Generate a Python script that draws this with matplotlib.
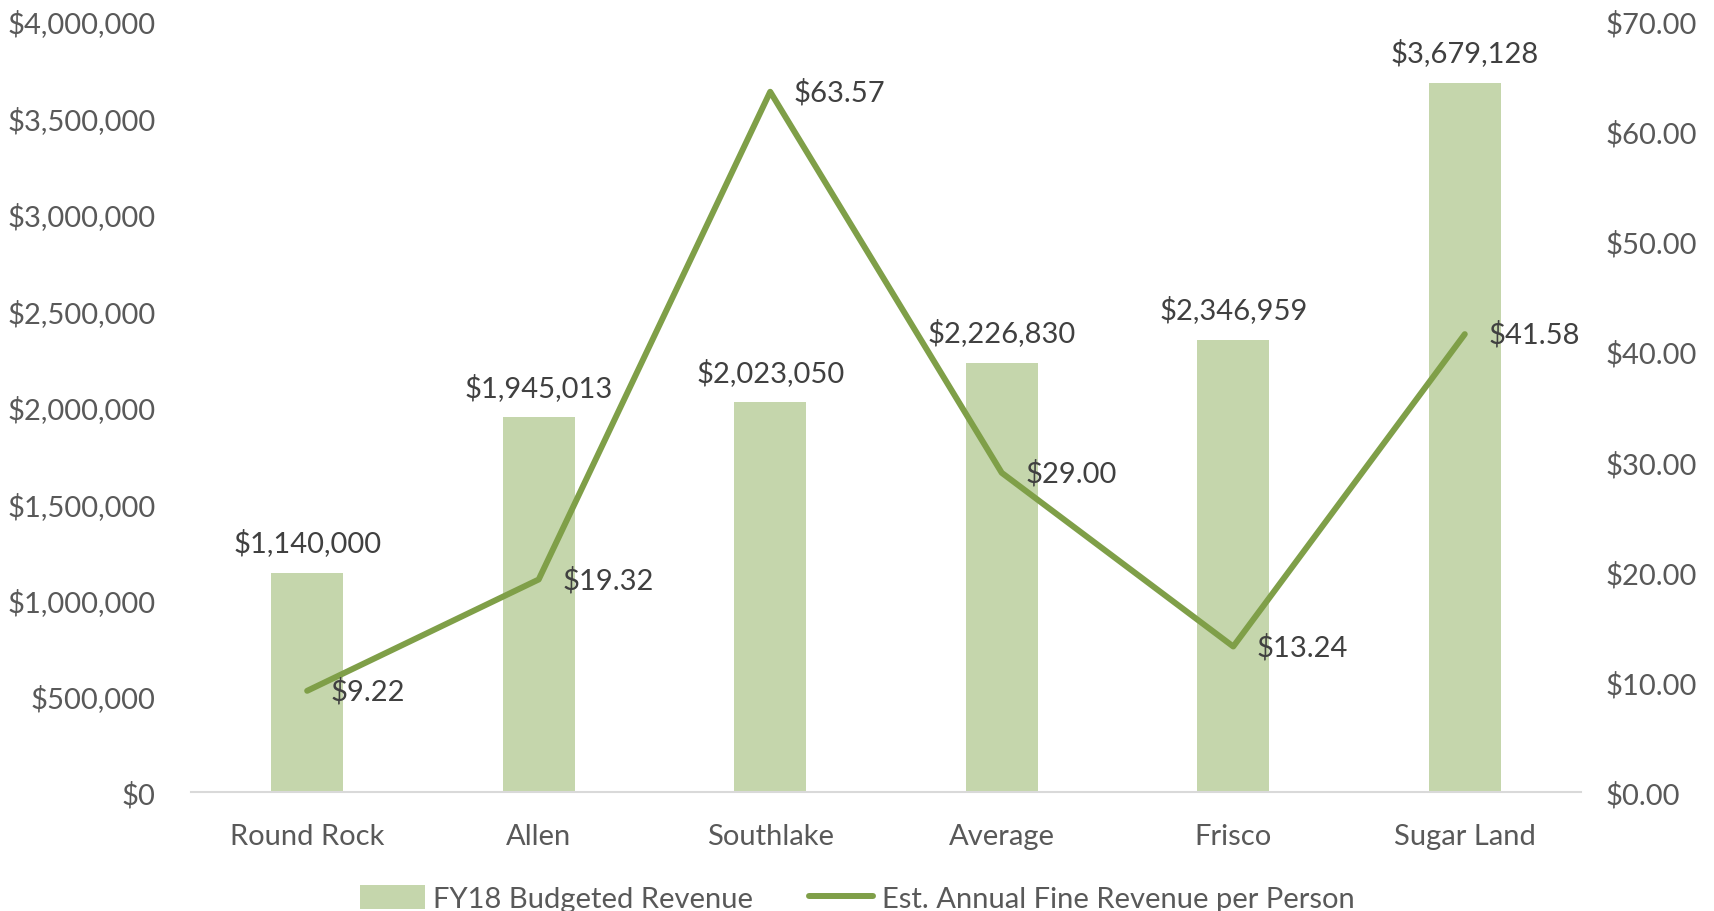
import matplotlib.pyplot as plt
from matplotlib.ticker import FuncFormatter

# Data
cities = ["Round Rock", "Allen", "Southlake", "Average", "Frisco", "Sugar Land"]
budgeted_revenue = [1140000, 1945013, 2023050, 2226830, 2346959, 3679128]
fine_per_person = [9.22, 19.32, 63.57, 29.00, 13.24, 41.58]

bar_color = "#C5D6AC"
line_color = "#7F9F48"
tick_color = "#595959"
label_color = "#404040"
fs = 21

plt.rcParams['font.family'] = ['Lato', 'DejaVu Sans']

fig, ax = plt.subplots(figsize=(17.15, 9.12), dpi=100)
fig.subplots_adjust(left=0.1116, right=0.9216, top=0.976, bottom=0.13)

x = list(range(len(cities)))
bars = ax.bar(x, budgeted_revenue, width=0.31, color=bar_color,
              label="FY18 Budgeted Revenue", zorder=2)
ax.set_ylim(0, 4000000)
ax.set_xlim(-0.5, len(cities) - 0.5)
ax.set_yticks(range(0, 4000001, 500000))
ax.yaxis.set_major_formatter(FuncFormatter(lambda v, p: f"${v:,.0f}"))

ax2 = ax.twinx()
line, = ax2.plot(x, fine_per_person, color=line_color, linewidth=4.3,
                 solid_capstyle='round', label="Est. Annual Fine Revenue per Person",
                 zorder=3)
ax2.set_ylim(0, 70)
ax2.set_yticks(range(0, 71, 10))
ax2.yaxis.set_major_formatter(FuncFormatter(lambda v, p: f"${v:.2f}"))

# Data labels
for xi, v in zip(x, budgeted_revenue):
    ax.annotate(f"${v:,.0f}", (xi, v), xytext=(0, 12), textcoords="offset points",
                ha="center", va="bottom", fontsize=fs, color=label_color)
for xi, v in zip(x, fine_per_person):
    ax2.annotate(f"${v:.2f}", (xi, v), xytext=(17, 0), textcoords="offset points",
                 ha="left", va="center", fontsize=fs, color=label_color)

for a in (ax, ax2):
    for s in a.spines.values():
        s.set_visible(False)
    a.tick_params(length=0, labelsize=fs, colors=tick_color)
ax.spines['bottom'].set_visible(True)
ax.spines['bottom'].set_color("#D9D9D9")
ax.spines['bottom'].set_linewidth(1.5)

ax.set_xticks(x)
ax.set_xticklabels(cities)
ax.tick_params(axis='x', pad=22)
ax.tick_params(axis='y', pad=26)
ax2.tick_params(axis='y', pad=18)

fig.legend(handles=[bars, line], loc="lower center", ncol=2, frameon=False,
           fontsize=fs, labelcolor=tick_color, bbox_to_anchor=(0.5, -0.03),
           handlelength=2.2, handleheight=0.9, columnspacing=1.9, handletextpad=0.3)

fig.savefig("out.png", dpi=100)
